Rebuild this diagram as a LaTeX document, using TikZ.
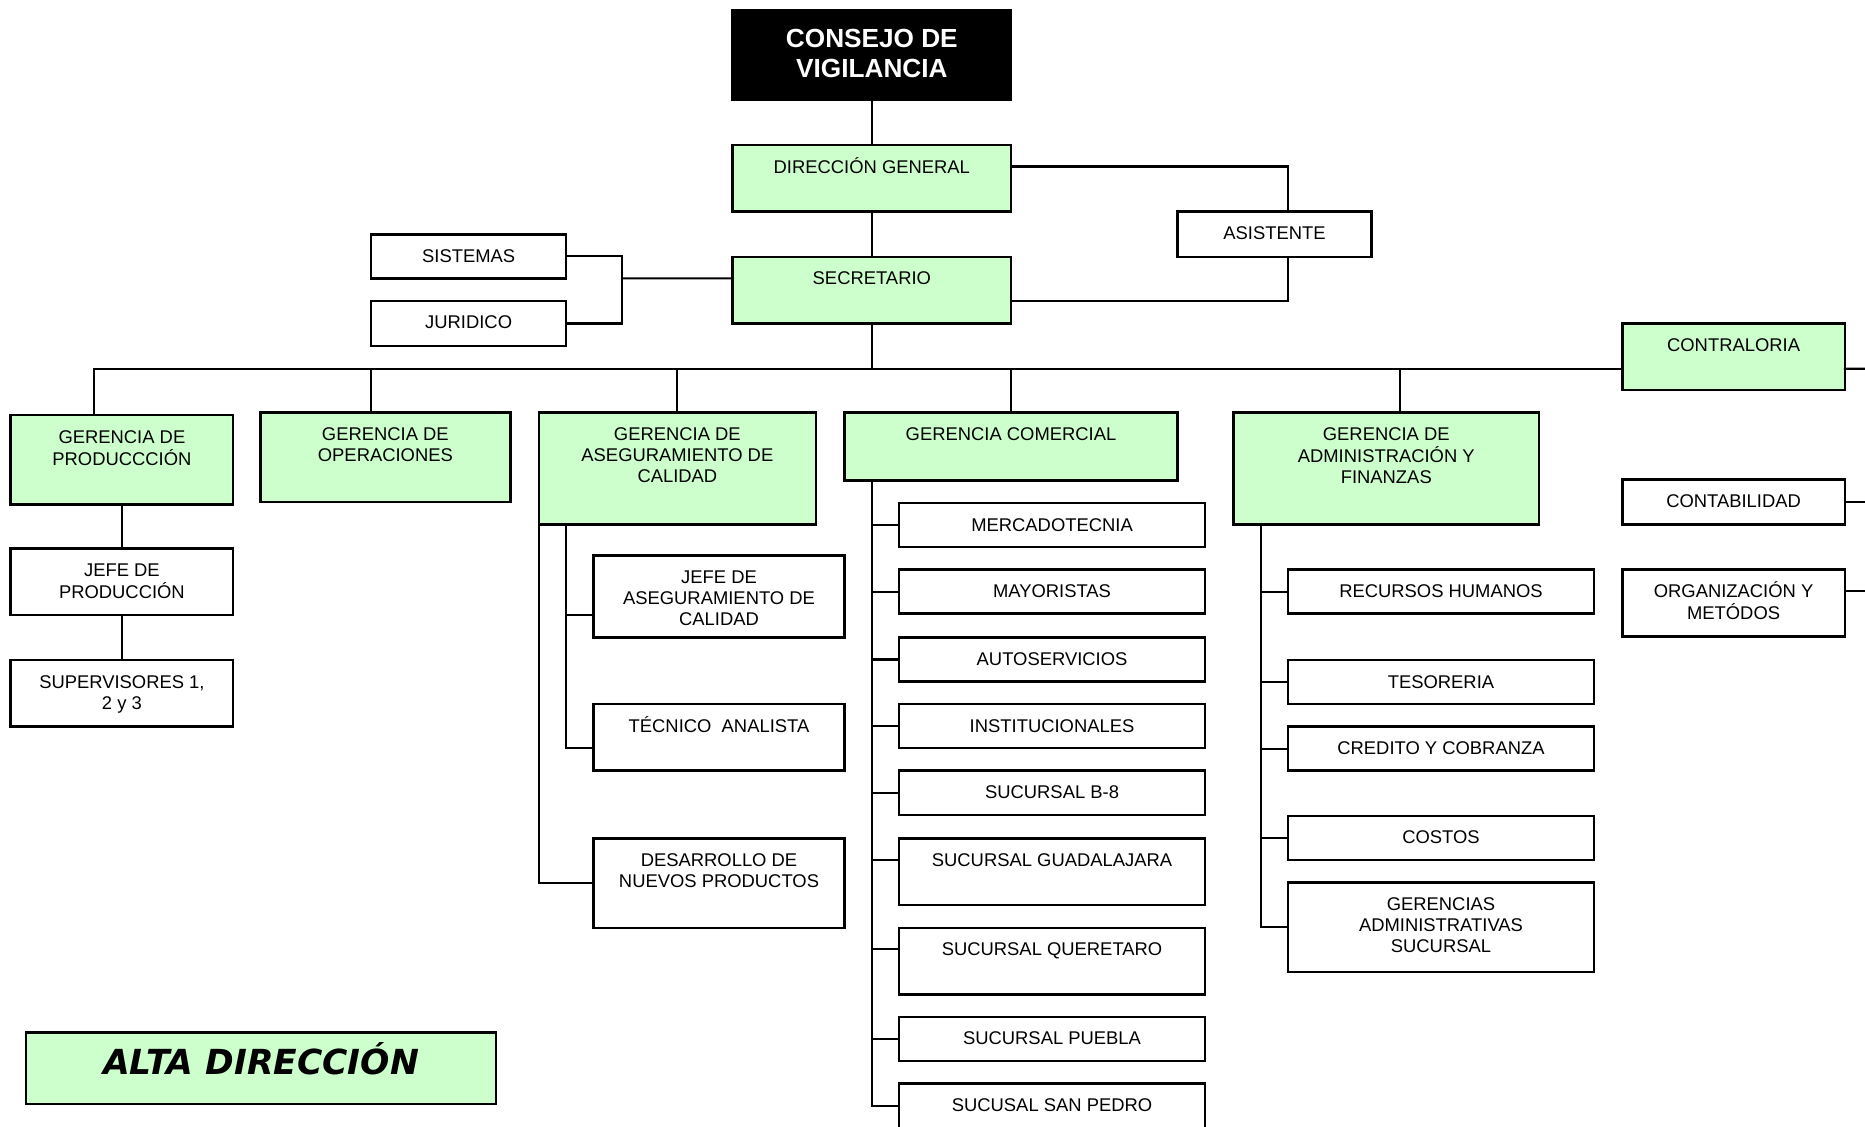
\documentclass[tikz,border=0pt]{standalone}
\usepackage{fontspec}
\setmainfont{Liberation Sans}
\newfontfamily\altafont{DejaVu Sans}
\usetikzlibrary{calc}
\definecolor{verde}{HTML}{CCFFCC}
\def\S{1.1894}
\tikzset{
  box/.style={draw=black, line width=2.5pt, rectangle, inner sep=0pt, outer sep=0pt},
  gbox/.style={box, fill=verde},
  wbox/.style={box, fill=white},
  kbox/.style={box, fill=black},
  txt/.style={anchor=base, inner sep=0pt, outer sep=0pt, font=\fontsize{18.4}{21}\selectfont},
  conn/.style={line width=2.1pt, line cap=rect}
}
\newcommand\bx[6]{%
  \pgfmathsetmacro\bxw{(#5-#3)*\S}%
  \pgfmathsetmacro\bxh{(#6-#4)*\S}%
  \pgfmathsetmacro\bxx{(#3+#5)/2}%
  \pgfmathsetmacro\bxy{(#4+#6)/2}%
  \node[#2, minimum width=\bxw pt, minimum height=\bxh pt] (#1) at (\bxx,\bxy) {};}
\newcommand\tx[2]{\node[txt] (#1-t) at ([yshift=-28pt]#1.north) {\begin{tabular}[t]{@{}c@{}}#2\end{tabular}};}
\begin{document}
\begin{tikzpicture}[x=1.1894pt, y=-1.1894pt]
\useasboundingbox[fill=white] (0,0) rectangle (1568,946.8);
% boxes
\bx{consejo}{kbox}{616}{9}{850}{84}
\bx{dg}{gbox}{616}{122}{850}{178}
\bx{sec}{gbox}{616}{216}{850}{272}
\bx{asis}{wbox}{990}{178}{1153}{216}
\bx{sist}{wbox}{312}{197}{476}{234}
\bx{jur}{wbox}{312}{253}{476}{291}
\bx{contr}{gbox}{1364}{272}{1551}{328}
\bx{gprod}{gbox}{9}{349}{196}{424}
\bx{gop}{gbox}{219}{347}{429}{422}
\bx{gase}{gbox}{453}{347}{686}{441}
\bx{gcom}{gbox}{710}{347}{990}{404}
\bx{gadm}{gbox}{1037}{347}{1294}{441}
\bx{jprod}{wbox}{9}{461}{196}{517}
\bx{sup}{wbox}{9}{555}{196}{611}
\bx{jase}{wbox}{499}{467}{710}{536}
\bx{tec}{wbox}{499}{592}{710}{648}
\bx{des}{wbox}{499}{705}{710}{780}
\bx{merc}{wbox}{756}{423}{1013}{460}
\bx{may}{wbox}{756}{479}{1013}{516}
\bx{autos}{wbox}{756}{536}{1013}{573}
\bx{inst}{wbox}{756}{592}{1013}{629}
\bx{bocho}{wbox}{756}{648}{1013}{685}
\bx{gdl}{wbox}{756}{705}{1013}{761}
\bx{qro}{wbox}{756}{780}{1013}{836}
\bx{pue}{wbox}{756}{855}{1013}{892}
\bx{spedro}{wbox}{756}{911}{1013}{951}
\bx{rh}{wbox}{1083}{479}{1340}{516}
\bx{tes}{wbox}{1083}{555}{1340}{592}
\bx{cred}{wbox}{1083}{611}{1340}{648}
\bx{cost}{wbox}{1083}{686}{1340}{723}
\bx{gas}{wbox}{1083}{742}{1340}{817}
\bx{conta}{wbox}{1364}{403}{1551}{441}
\bx{org}{wbox}{1364}{479}{1551}{535}
\bx{alta}{gbox}{22}{868}{417}{928}
% texts
\node[anchor=base, inner sep=0pt, text=white, font=\bfseries\fontsize{26.2}{30}\selectfont] (consejo-t) at ([yshift=-37pt]consejo.north) {\begin{tabular}[t]{@{}c@{}}CONSEJO DE\\VIGILANCIA\end{tabular}};
\tx{dg}{DIRECCIÓN GENERAL}
\tx{sec}{SECRETARIO}
\tx{asis}{ASISTENTE}
\tx{sist}{SISTEMAS}
\tx{jur}{JURIDICO}
\tx{contr}{CONTRALORIA}
\tx{gprod}{GERENCIA DE\\PRODUCCCIÓN}
\tx{gop}{GERENCIA DE\\OPERACIONES}
\tx{gase}{GERENCIA DE\\ASEGURAMIENTO DE\\CALIDAD}
\tx{gcom}{GERENCIA COMERCIAL}
\tx{gadm}{GERENCIA DE\\ADMINISTRACIÓN Y\\FINANZAS}
\tx{jprod}{JEFE DE\\PRODUCCIÓN}
\tx{sup}{SUPERVISORES 1,\\2 y 3}
\tx{jase}{JEFE DE\\ASEGURAMIENTO DE\\CALIDAD}
\tx{tec}{TÉCNICO\ \ ANALISTA}
\tx{des}{DESARROLLO DE\\NUEVOS PRODUCTOS}
\tx{merc}{MERCADOTECNIA}
\tx{may}{MAYORISTAS}
\tx{autos}{AUTOSERVICIOS}
\tx{inst}{INSTITUCIONALES}
\tx{bocho}{SUCURSAL B-8}
\tx{gdl}{SUCURSAL GUADALAJARA}
\tx{qro}{SUCURSAL QUERETARO}
\tx{pue}{SUCURSAL PUEBLA}
\tx{spedro}{SUCUSAL SAN PEDRO}
\tx{rh}{RECURSOS HUMANOS}
\tx{tes}{TESORERIA}
\tx{cred}{CREDITO Y COBRANZA}
\tx{cost}{COSTOS}
\tx{gas}{GERENCIAS\\ADMINISTRATIVAS\\SUCURSAL}
\tx{conta}{CONTABILIDAD}
\tx{org}{ORGANIZACIÓN Y\\METÓDOS}
\node[anchor=base, inner sep=0pt, font=\altafont\bfseries\itshape\fontsize{34.5}{40}\selectfont] (alta-t) at ([yshift=-42.5pt]alta.north) {ALTA DIRECCIÓN};
% coordinates
\coordinate (bus) at (733,310);
\coordinate (redge) at (1575,310);
\coordinate (sj) at (523,234);
\coordinate (cs) at ([xshift=27.4pt]gcom.south west);
\coordinate (as) at ([xshift=27.4pt]gadm.south west);
\coordinate (qs) at ([xshift=27.4pt]gase.south west);
% connectors
\draw[conn] (consejo.south) -- (dg.north);
\draw[conn] (dg.south) -- (sec.north);
\draw[conn] ([yshift=11.9pt]dg.east) -| ([xshift=13.7pt]asis.north);
\draw[conn] ([xshift=13.7pt]asis.south) |- ([yshift=-10.7pt]sec.east);
\draw[conn] (sist.east) -| (sj) |- (jur.east);
\draw[conn] ([yshift=11.9pt]sec.west) -- (sj);
\draw[conn] (sec.south) -- (bus);
\draw[conn] ([xshift=-27.9pt]gprod.north) |- ([yshift=-11.9pt]contr.west);
\draw[conn] ([yshift=-11.9pt]contr.east) -- (redge);
\draw[conn] ([xshift=-14.3pt]gop.north) -- ([xshift=-14.3pt]gop.north |- bus);
\draw[conn] (gase.north) -- (gase.north |- bus);
\draw[conn] (gcom.north) -- (gcom.north |- bus);
\draw[conn] ([xshift=13.7pt]gadm.north) -- ([xshift=13.7pt]gadm.north |- bus);
\draw[conn] (gprod.south) -- (jprod.north);
\draw[conn] (jprod.south) -- (sup.north);
% aseguramiento
\draw[conn] (qs) |- ([yshift=-10.7pt]tec.west);
\draw[conn] ([yshift=-18.4pt]jase.west) -- ([yshift=-18.4pt]jase.west -| qs);
\draw[conn] (gase.south west) |- (des.west);
% comercial
\draw[conn] (cs) |- (spedro.west |- 0,930);
\draw[conn] (merc.west) -- (merc.west -| cs);
\draw[conn] (may.west) -- (may.west -| cs);
\draw[conn] (autos.west) -- (autos.west -| cs);
\draw[conn] (inst.west) -- (inst.west -| cs);
\draw[conn] (bocho.west) -- (bocho.west -| cs);
\draw[conn] ([yshift=11.9pt]gdl.west) -- ([yshift=11.9pt]gdl.west -| cs);
\draw[conn] ([yshift=11.9pt]qro.west) -- ([yshift=11.9pt]qro.west -| cs);
\draw[conn] (pue.west) -- (pue.west -| cs);
% administracion
\draw[conn] (as) |- (gas.west);
\draw[conn] (rh.west) -- (rh.west -| as);
\draw[conn] (tes.west) -- (tes.west -| as);
\draw[conn] (cred.west) -- (cred.west -| as);
\draw[conn] (cost.west) -- (cost.west -| as);
% contraloria
\draw[conn] (conta.east) -- (conta.east -| redge);
\draw[conn] ([yshift=11.9pt]org.east) -- ([yshift=11.9pt]org.east -| redge);
\end{tikzpicture}
\end{document}
